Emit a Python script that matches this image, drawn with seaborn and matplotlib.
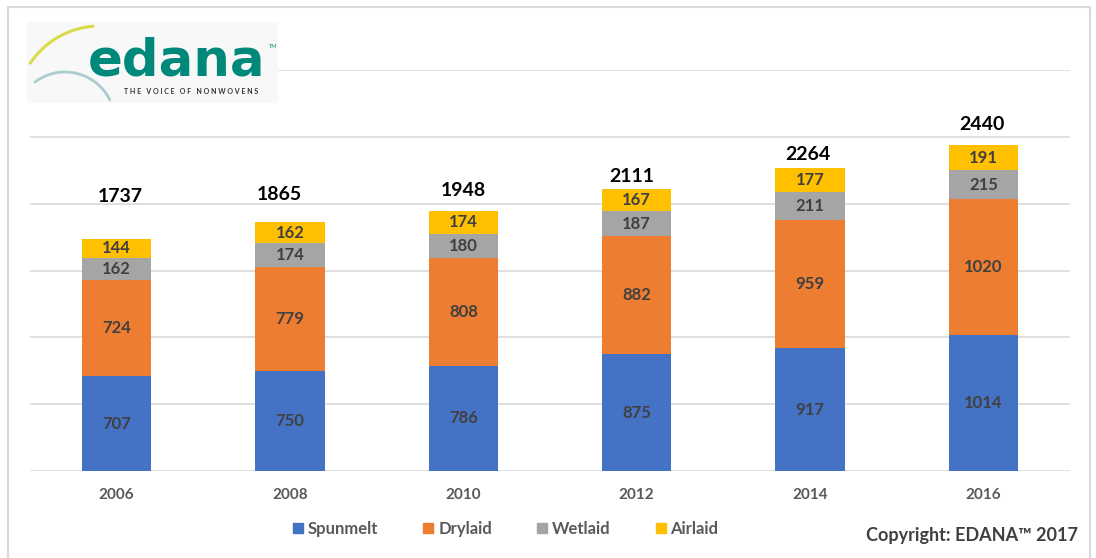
import numpy as np
import pandas as pd
import matplotlib
matplotlib.use("Agg")
import matplotlib.pyplot as plt
from matplotlib.patches import Rectangle
from matplotlib.lines import Line2D
import seaborn as sns

years = ["2006", "2008", "2010", "2012", "2014", "2016"]
spunmelt = [707, 750, 786, 875, 917, 1014]
drylaid = [724, 779, 808, 882, 959, 1020]
wetlaid = [162, 174, 180, 187, 211, 215]
airlaid = [144, 162, 174, 167, 177, 191]
totals = [1737, 1865, 1948, 2111, 2264, 2440]

series_names = ["Spunmelt", "Drylaid", "Wetlaid", "Airlaid"]
series_vals = [spunmelt, drylaid, wetlaid, airlaid]
colors = ["#4472C4", "#ED7D31", "#A5A5A5", "#FFC000"]

# layout of the (hand-placed) total labels: offsets above the bar top
total_dy = [317, 204, 154, 92, 104, 156]
total_dx = [0.02, -0.06, 0.0, -0.03, -0.01, -0.01]

sns.set_theme(style="white")
plt.rcParams["font.family"] = ["Lato", "DejaVu Sans"]

W, H = 1096, 558
fig = plt.figure(figsize=(W / 100, H / 100), dpi=100)

def fx(px):
    return px / W

def fy(py):
    return 1 - py / H

# outer frame
fig.patches.append(Rectangle((fx(8), fy(560)), fx(1090) - fx(8), fy(7) - fy(560),
                             transform=fig.transFigure, fill=False,
                             edgecolor="#D9D9D9", lw=1.5, zorder=0))

ax = fig.add_axes([fx(30), fy(471), fx(1070) - fx(30), fy(70) - fy(471)])

cum = np.zeros(len(years))
cums = []
for vals in series_vals:
    cum = cum + np.array(vals)
    cums.append(cum.copy())

# draw from the top layer down so each stacked segment shows
for i in range(len(series_names) - 1, -1, -1):
    d = pd.DataFrame({"year": years, "value": cums[i]})
    sns.barplot(data=d, x="year", y="value", color=colors[i], width=0.4,
                saturation=1, ax=ax, zorder=3, edgecolor="none")

ax.set_ylim(0, 3000)
ax.set_xlim(-0.5, len(years) - 0.5)
ax.set_yticks(np.arange(0, 3001, 500))
ax.set_yticklabels([])
ax.yaxis.grid(True, color="#D9D9D9", lw=1.2, zorder=0)
ax.set_axisbelow(True)
for s in ax.spines.values():
    s.set_visible(False)
ax.tick_params(axis="y", length=0)
ax.tick_params(axis="x", length=0, pad=12)
ax.set_xlabel("")
ax.set_ylabel("")
for lab in ax.get_xticklabels():
    lab.set_fontsize(11)
    lab.set_fontweight("bold")
    lab.set_color("#595959")

# segment labels
for i, vals in enumerate(series_vals):
    base = cums[i] - np.array(vals)
    for j, v in enumerate(vals):
        ax.text(j, base[j] + v / 2, str(v), ha="center", va="center",
                fontsize=12, fontweight="bold", color="#404040", zorder=5)

# totals
for j, t in enumerate(totals):
    ax.text(j + total_dx[j], t + total_dy[j], str(t), ha="center", va="center",
            fontsize=14, fontweight="bold", color="#000000", zorder=5)

# legend
handles = [Line2D([0], [0], marker="s", linestyle="none", markersize=7,
                  markerfacecolor=c, markeredgecolor=c) for c in colors]
leg = fig.legend(handles, series_names, loc="center", ncol=4,
                 bbox_to_anchor=(fx(504), fy(529)), frameon=False,
                 handletextpad=0.1, columnspacing=2.5, handlelength=1.0,
                 prop={"size": 12, "weight": "bold"})
for t in leg.get_texts():
    t.set_color("#595959")

fig.text(fx(1078), fy(536), "Copyright: EDANA\u2122 2017", ha="right", va="center",
         fontsize=13, fontweight="bold", color="#404040")

# logo
lax = fig.add_axes([fx(27), fy(103), fx(278) - fx(27), fy(22) - fy(103)])
lax.set_xlim(27, 278)
lax.set_ylim(103, 22)
lax.axis("off")
lax.add_patch(Rectangle((27, 22), 251, 81, color="#F8F8F8", zorder=0))
lax.set_zorder(10)
# yellow arc
cx, cy, r = 100, 110, 84
a1 = np.arctan2(63 - cy, 30 - cx)
a2 = np.arctan2(26 - cy, 93 - cx)
th = np.linspace(a1, a2, 60)
lax.plot(cx + r * np.cos(th), cy + r * np.sin(th), color="#D8DC4A", lw=2.2,
         solid_capstyle="round")
# blue arc
cx, cy, r = 65, 122, 50
a1 = np.arctan2(82 - cy, 35 - cx)
a2 = np.arctan2(100 - cy, 110 - cx)
th = np.linspace(a1, a2 + 2 * np.pi if a2 < a1 else a2, 60)
lax.plot(cx + r * np.cos(th), cy + r * np.sin(th), color="#A9CDD0", lw=2.0,
         solid_capstyle="round")
lax.text(176, 75, "edana", ha="center", va="baseline", fontsize=37,
         fontweight="bold", color="#00897B", family=["DejaVu Sans"])
lax.text(273, 47, "TM", ha="center", va="center", fontsize=4, color="#00897B")
lax.text(191, 91.5, "T H E   V O I C E   O F   N O N W O V E N S", ha="center",
         va="center", fontsize=5, color="#333333", fontweight="bold")

fig.savefig("out.png", dpi=100)
